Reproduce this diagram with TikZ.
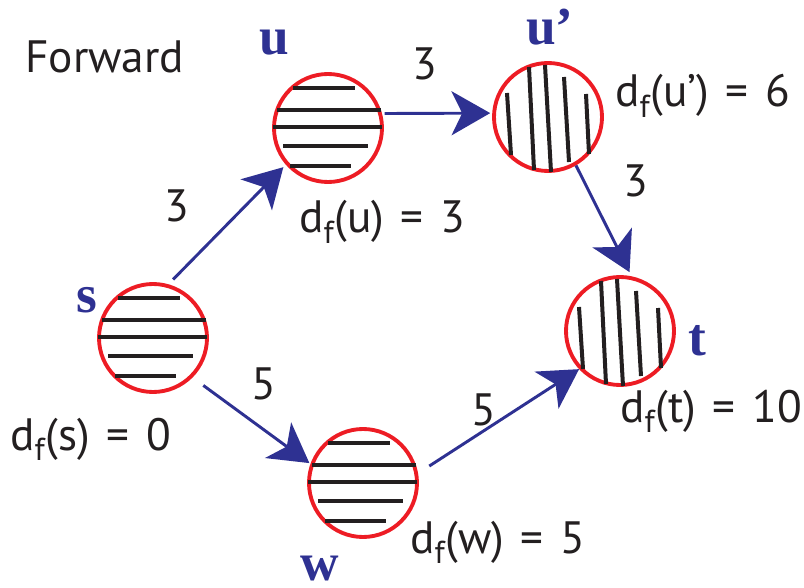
\documentclass[tikz,border=0pt]{standalone}
\usepackage{fontspec}
\setmainfont{PT Sans}
\newfontfamily\tagfont{Liberation Serif}
\usetikzlibrary{arrows.meta}
\definecolor{nblue}{RGB}{46,49,146}
\definecolor{nred}{RGB}{237,28,36}
\definecolor{ink}{RGB}{35,31,32}
\newcommand{\dist}[2]{d\textsubscript{f}(#1)\hspace{0.37em}=\hspace{0.37em}#2}

\begin{document}
\begin{tikzpicture}[
  x=0.75pt, y=-0.75pt,
  vertex/.style={circle, draw=nred, line width=2.9pt, minimum size=81pt, inner sep=0pt},
  hatch/.style={draw=ink, line width=3pt},
  lbl/.style={anchor=base west, inner sep=0pt, text=ink, font=\fontsize{34}{40}\selectfont},
  tag/.style={anchor=base west, inner sep=0pt, text=nblue, font=\tagfont\bfseries\fontsize{40}{46}\selectfont},
  arr/.style={draw=nblue, line width=2.2pt, -{Stealth[length=29pt, width=33pt, inset=8pt]}},
  >=Stealth
]
\useasboundingbox (0,0) rectangle (804,588);

\node[vertex] (s)  at (153,338) {};
\node[vertex] (u)  at (328,128) {};
\node[vertex] (up) at (548,117) {};
\node[vertex] (t)  at (620,331) {};
\node[vertex] (w)  at (363,483) {};

% hatching
\foreach \n in {s,u,w}
  \foreach \a/\b/\y in {-35/27/-40, -51/53/-18, -55/54/-1, -45/40/18, -38/23/38}
    \draw[hatch] ([shift={(\a,\y)}]\n.center) -- ([shift={(\b,\y)}]\n.center);
\foreach \n in {up,t}
  \foreach \a/\p/\b/\q in {-41/-24/-37/38, -19/-50/-14/53, -3/-52/3/55, 16/-40/21/45, 38/-23/41/37}
    \draw[hatch] ([shift={(\a,\p)}]\n.center) -- ([shift={(\b,\q)}]\n.center);

% edges
\draw[arr, shorten <=5pt, shorten >=2.6pt] (s.74) -- (u.221);
\draw[arr, shorten <=2pt, shorten >=1.5pt] (u.15) -- (up.176);
\draw[arr, shorten >=3.5pt] (up.300) -- (t.78);
\draw[arr, shorten <=10pt, shorten >=1pt] (s.315) -- (w.160);
\draw[arr, shorten <=10pt] (w.10) -- (t.223);

% texts
\node[lbl] (title) at (25,73) {Forward};
\node[tag] (tu)  at (259,55)  {u};
\node[tag] (tup) at (526,45)  {u’};
\node[tag] (ts)  at (76,312)  {s};
\node[tag] (tt)  at (688,355) {t};
\node[tag] (tw)  at (300,580) {w};

\node[lbl] (du)  at (299,233) {\dist{u}{3}};
\node[lbl] (dup) at (615,107) {\dist{u’}{6}};
\node[lbl] (ds)  at (10,450)  {\dist{s}{0}};
\node[lbl] (dw)  at (410,553) {\dist{w}{5}};
\node[lbl] (dt)  at (620,422) {\dist{t}{10}};

\node[lbl] (e1) at (164,222) {3};
\node[lbl] (e2) at (412,80)  {3};
\node[lbl] (e3) at (623,197) {3};
\node[lbl] (e4) at (251,399) {5};
\node[lbl] (e5) at (471,425) {5};
\end{tikzpicture}
\end{document}
